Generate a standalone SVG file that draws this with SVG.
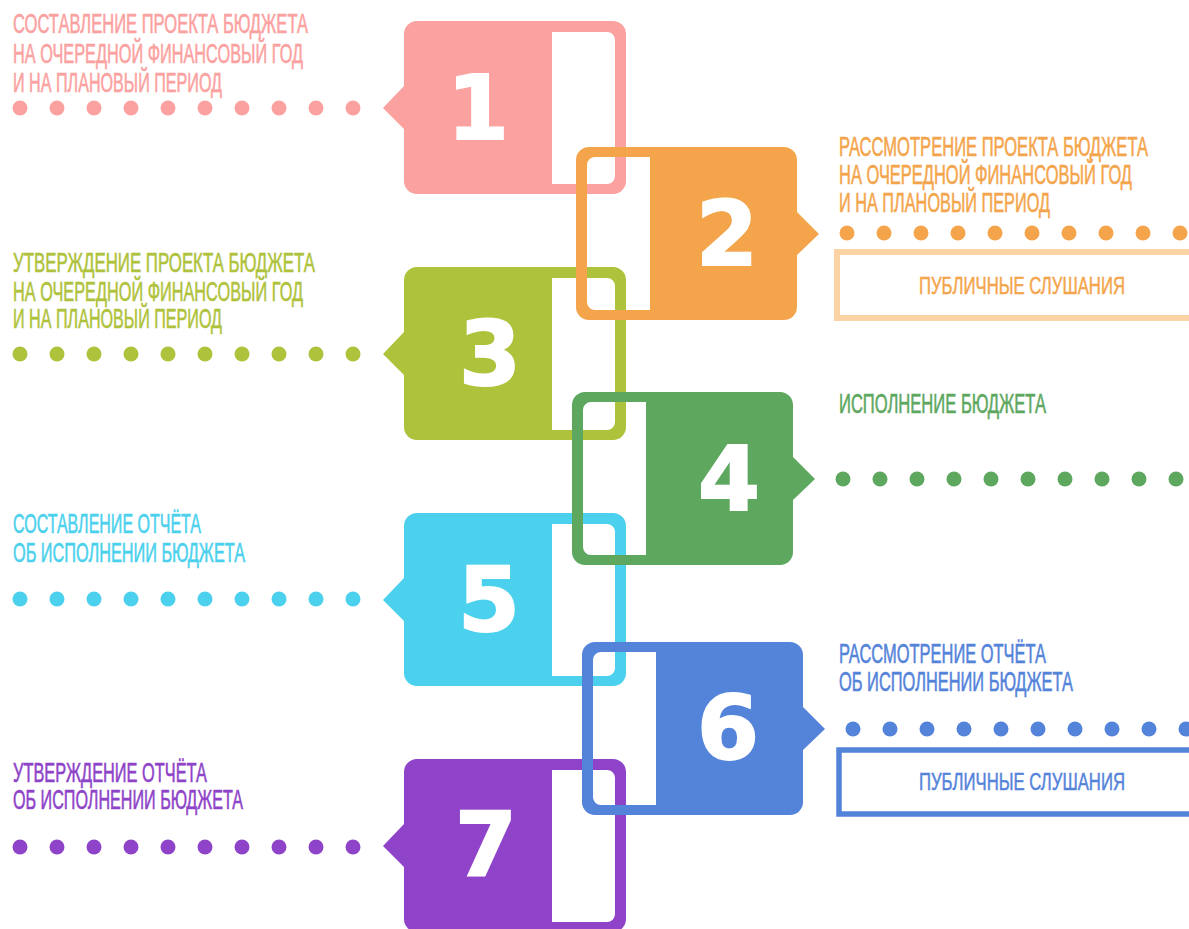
<svg xmlns="http://www.w3.org/2000/svg" xmlns:xlink="http://www.w3.org/1999/xlink" width="1189" height="929" viewBox="0 0 1189 929">
<style>
.lbl{font-family:"Liberation Sans",Arial,sans-serif;font-size:27px;stroke:currentColor;stroke-width:0.6}
.pub{font-family:"Liberation Sans",Arial,sans-serif;font-size:24px;stroke:currentColor;stroke-width:0.5}
.num{font-family:"DejaVu Sans","Liberation Sans",sans-serif;font-weight:bold;font-size:89px;fill:#fff;stroke:#fff;stroke-width:2;text-anchor:middle}
.c1{fill:#FBA1A0;color:#FBA1A0}.c2{fill:#F4A54B;color:#F4A54B}.c3{fill:#AFC23B;color:#AFC23B}.c4{fill:#5DA75F;color:#5DA75F}.c5{fill:#4BD1ED;color:#4BD1ED}.c6{fill:#5483DA;color:#5483DA}.c7{fill:#8E43C8;color:#8E43C8}
</style>
<defs>
<path id="blkL" fill-rule="evenodd" d="M13,0 H209 A13,13 0 0 1 222,13 V160 A13,13 0 0 1 209,173 H13 A13,13 0 0 1 0,160 V108 L-21,87 L0,65 V13 A13,13 0 0 1 13,0 Z M148,11 H203 A8,8 0 0 1 211,19 V155 A8,8 0 0 1 203,163 H148 Z"/>
<path id="blkR" fill-rule="evenodd" d="M13,0 H208 A13,13 0 0 1 221,13 V65 L243,87 L221,108 V160 A13,13 0 0 1 208,173 H13 A13,13 0 0 1 0,160 V13 A13,13 0 0 1 13,0 Z M19,10 H74 V163 H19 A8,8 0 0 1 11,155 V18 A8,8 0 0 1 19,10 Z"/>
<g id="dots">
<circle cx="0" cy="0" r="7.5"/><circle cx="37" cy="0" r="7.5"/><circle cx="74" cy="0" r="7.5"/><circle cx="111" cy="0" r="7.5"/><circle cx="148" cy="0" r="7.5"/><circle cx="185" cy="0" r="7.5"/><circle cx="222" cy="0" r="7.5"/><circle cx="259" cy="0" r="7.5"/><circle cx="296" cy="0" r="7.5"/><circle cx="333" cy="0" r="7.5"/>
</g>
</defs>

<g id="connectors">
<use xlink:href="#dots" href="#dots" class="c1" transform="translate(20,108)"/>
<use xlink:href="#dots" href="#dots" class="c2" transform="translate(847,233)"/>
<use xlink:href="#dots" href="#dots" class="c3" transform="translate(20,354)"/>
<use xlink:href="#dots" href="#dots" class="c4" transform="translate(843,479)"/>
<use xlink:href="#dots" href="#dots" class="c5" transform="translate(20,599)"/>
<use xlink:href="#dots" href="#dots" class="c6" transform="translate(853,729)"/>
<use xlink:href="#dots" href="#dots" class="c7" transform="translate(20,847)"/>
</g>

<g id="step1">
<use xlink:href="#blkL" href="#blkL" class="c1" transform="translate(404,21)"/>
<text class="num" x="478" y="139">1</text>
<g class="c1">
<text class="lbl" transform="translate(13,33) scale(0.64,1)" textLength="460.9" lengthAdjust="spacingAndGlyphs">СОСТАВЛЕНИЕ ПРОЕКТА БЮДЖЕТА</text>
<text class="lbl" transform="translate(13,63) scale(0.64,1)" textLength="453.1" lengthAdjust="spacingAndGlyphs">НА ОЧЕРЕДНОЙ ФИНАНСОВЫЙ ГОД</text>
<text class="lbl" transform="translate(13,92) scale(0.64,1)" textLength="326.6" lengthAdjust="spacingAndGlyphs">И НА ПЛАНОВЫЙ ПЕРИОД</text>
</g>
</g>

<g id="step3">
<use xlink:href="#blkL" href="#blkL" class="c3" transform="translate(404,267)"/>
<text class="num" x="490" y="385">3</text>
<g class="c3">
<text class="lbl" transform="translate(13,272) scale(0.64,1)" textLength="471.9" lengthAdjust="spacingAndGlyphs">УТВЕРЖДЕНИЕ ПРОЕКТА БЮДЖЕТА</text>
<text class="lbl" transform="translate(13,301) scale(0.64,1)" textLength="453.1" lengthAdjust="spacingAndGlyphs">НА ОЧЕРЕДНОЙ ФИНАНСОВЫЙ ГОД</text>
<text class="lbl" transform="translate(13,328) scale(0.64,1)" textLength="326.6" lengthAdjust="spacingAndGlyphs">И НА ПЛАНОВЫЙ ПЕРИОД</text>
</g>
</g>

<g id="step5">
<use xlink:href="#blkL" href="#blkL" class="c5" transform="translate(404,513)"/>
<text class="num" x="489" y="631">5</text>
<g class="c5">
<text class="lbl" transform="translate(13,533) scale(0.64,1)" textLength="293.8" lengthAdjust="spacingAndGlyphs">СОСТАВЛЕНИЕ ОТЧЁТА</text>
<text class="lbl" transform="translate(13,562) scale(0.64,1)" textLength="362.5" lengthAdjust="spacingAndGlyphs">ОБ ИСПОЛНЕНИИ БЮДЖЕТА</text>
</g>
</g>

<g id="step7">
<use xlink:href="#blkL" href="#blkL" class="c7" transform="translate(404,759)"/>
<text class="num" x="486" y="876">7</text>
<g class="c7">
<text class="lbl" transform="translate(13,782) scale(0.64,1)" textLength="303.1" lengthAdjust="spacingAndGlyphs">УТВЕРЖДЕНИЕ ОТЧЁТА</text>
<text class="lbl" transform="translate(13,809) scale(0.64,1)" textLength="359.4" lengthAdjust="spacingAndGlyphs">ОБ ИСПОЛНЕНИИ БЮДЖЕТА</text>
</g>
</g>

<g id="step2">
<use xlink:href="#blkR" href="#blkR" class="c2" transform="translate(576,147)"/>
<text class="num" x="727" y="265">2</text>
<g class="c2">
<text class="lbl" transform="translate(839,156) scale(0.64,1)" textLength="482.8" lengthAdjust="spacingAndGlyphs">РАССМОТРЕНИЕ ПРОЕКТА БЮДЖЕТА</text>
<text class="lbl" transform="translate(839,184) scale(0.64,1)" textLength="457.8" lengthAdjust="spacingAndGlyphs">НА ОЧЕРЕДНОЙ ФИНАНСОВЫЙ ГОД</text>
<text class="lbl" transform="translate(839,212) scale(0.64,1)" textLength="329.7" lengthAdjust="spacingAndGlyphs">И НА ПЛАНОВЫЙ ПЕРИОД</text>
</g>
</g>

<g id="hearing1">
<rect x="837" y="252" width="400" height="66" fill="none" stroke="#FCD3A5" stroke-width="6"/>
<text class="pub c2" transform="translate(919,294) scale(0.74,1)" textLength="278.4" lengthAdjust="spacingAndGlyphs">ПУБЛИЧНЫЕ СЛУШАНИЯ</text>
</g>

<g id="step4">
<use xlink:href="#blkR" href="#blkR" class="c4" transform="translate(572,392)"/>
<text class="num" x="729" y="510">4</text>
<text class="lbl c4" transform="translate(839,413) scale(0.64,1)" textLength="323.4" lengthAdjust="spacingAndGlyphs">ИСПОЛНЕНИЕ БЮДЖЕТА</text>
</g>

<g id="step6">
<use xlink:href="#blkR" href="#blkR" class="c6" transform="translate(582,642)"/>
<text class="num" x="728" y="759">6</text>
<g class="c6">
<text class="lbl" transform="translate(839,663) scale(0.64,1)" textLength="323.4" lengthAdjust="spacingAndGlyphs">РАССМОТРЕНИЕ  ОТЧЁТА</text>
<text class="lbl" transform="translate(839,691) scale(0.64,1)" textLength="365.6" lengthAdjust="spacingAndGlyphs">ОБ ИСПОЛНЕНИИ БЮДЖЕТА</text>
</g>
</g>

<g id="hearing2">
<rect x="839" y="750" width="400" height="64" fill="none" stroke="#5483DA" stroke-width="5.5"/>
<text class="pub c6" transform="translate(919,790) scale(0.74,1)" textLength="278.4" lengthAdjust="spacingAndGlyphs">ПУБЛИЧНЫЕ СЛУШАНИЯ</text>
</g>
</svg>
